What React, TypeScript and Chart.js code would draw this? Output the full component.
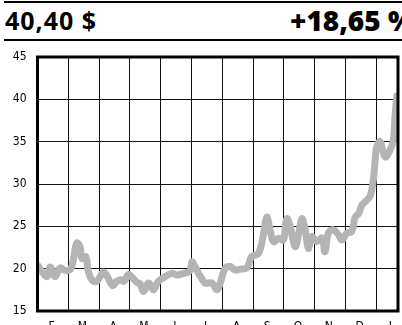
import React, { useEffect, useRef } from "react";
import { Chart, registerables } from "chart.js";

Chart.register(...registerables);

// Month initials along the bottom axis (first gridline = start of February)
const MONTH_LABELS = ["F", "M", "A", "M", "J", "J", "A", "S", "O", "N", "D", "J"];
const Y_TICKS = [15, 20, 25, 30, 35, 40, 45];

// Position of each reading, in months since the start of the window
const MONTH_POS = [
  0, 0.3, 0.41, 0.57, 0.73, 0.89, 1.06, 1.15, 1.27, 1.38, 1.44, 1.57, 1.64, 1.76,
  1.92, 2.03, 2.14, 2.27, 2.44, 2.57, 2.7, 2.81, 2.95, 3.09, 3.22, 3.33, 3.44,
  3.6, 3.76, 3.92, 4.08, 4.36, 4.52, 4.79, 4.95, 5.01, 5.11, 5.22, 5.33, 5.44,
  5.66, 5.82, 5.93, 6.09, 6.25, 6.41, 6.57, 6.79, 6.95, 7.17, 7.33, 7.44, 7.55,
  7.66, 7.82, 7.98, 8.09, 8.2, 8.36, 8.47, 8.58, 8.69, 8.79, 8.9, 9.06, 9.23,
  9.33, 9.44, 9.6, 9.77, 9.88, 10.04, 10.2, 10.31, 10.42, 10.53, 10.69, 10.8,
  10.9, 10.96, 11.01, 11.12, 11.28, 11.44, 11.55, 11.6, 11.66,
];

// Share price in dollars
const PRICES = [
  20.4, 19.05, 20.2, 19.05, 20.1, 19.8, 19.9, 20.8, 23.0, 22.6, 21.2, 21.4, 19.85,
  18.7, 18.5, 19.05, 19.6, 19.05, 18.0, 18.5, 18.7, 18.5, 19.3, 18.9, 18.4, 18.2,
  17.3, 18.3, 17.5, 18.5, 18.9, 19.45, 19.25, 19.5, 19.75, 20.8, 20.25, 19.45,
  18.85, 18.3, 18.3, 17.5, 18.3, 20.05, 20.25, 19.85, 19.95, 20.1, 21.4, 21.8,
  24.0, 26.1, 24.6, 23.2, 23.6, 23.4, 25.9, 25.0, 22.6, 24.0, 25.9, 24.6, 22.4,
  23.8, 23.2, 23.6, 22.0, 24.2, 24.6, 24.0, 23.4, 24.2, 24.4, 26.1, 26.5, 27.5,
  28.1, 28.6, 30.5, 32.85, 34.4, 35.0, 33.2, 34.0, 35.2, 37.9, 40.4,
];

const LAST_PRICE = "40,40 $";
const CHANGE = "+18,65 %";

const AXIS_FONT = "'Liberation Sans Narrow', 'DejaVu Sans Condensed', 'Open Sans', sans-serif";

const frameBorder = {
  id: "frameBorder",
  afterDraw(chart: Chart) {
    const { ctx, chartArea } = chart;
    ctx.save();
    ctx.strokeStyle = "#000";
    ctx.lineWidth = 3;
    ctx.strokeRect(
      chartArea.left,
      chartArea.top,
      chartArea.right - chartArea.left,
      chartArea.bottom - chartArea.top
    );
    ctx.restore();
  },
};

export default function App() {
  const canvasRef = useRef<HTMLCanvasElement | null>(null);

  useEffect(() => {
    document.body.style.margin = "0";
    document.body.style.overflow = "hidden";
    const canvas = canvasRef.current;
    if (!canvas) return;
    const points = MONTH_POS.map((m, i) => ({ x: m, y: PRICES[i] }));
    const chart = new Chart(canvas, {
      type: "line",
      data: {
        datasets: [
          {
            data: points,
            borderColor: "#b4b4b4",
            borderWidth: 7,
            borderCapStyle: "round",
            borderJoinStyle: "round",
            pointRadius: 0,
            tension: 0.4,
            fill: false,
          },
        ],
      },
      options: {
        animation: false,
        responsive: false,
        maintainAspectRatio: false,
        events: [],
        layout: { padding: { top: 12, right: 4, left: 0, bottom: 0 } },
        plugins: {
          legend: { display: false },
          tooltip: { enabled: false },
        },
        scales: {
          x: {
            type: "linear",
            min: 0,
            max: 11.7,
            afterBuildTicks(scale: any) {
              scale.ticks = MONTH_LABELS.map((_, i) => ({ value: i }));
            },
            afterFit(scale: any) {
              scale.height = 24;
              scale.paddingLeft = 0;
              scale.paddingRight = 0;
            },
            border: { display: false },
            grid: { color: "#111", lineWidth: 1, drawTicks: false },
            ticks: {
              autoSkip: false,
              maxRotation: 0,
              padding: 9,
              labelOffset: 14,
              color: "#000",
              font: { family: AXIS_FONT, size: 12 },
              callback: (_v: any, i: number) => MONTH_LABELS[i],
            },
          },
          y: {
            type: "linear",
            min: 15,
            max: 45,
            afterBuildTicks(scale: any) {
              scale.ticks = Y_TICKS.map((v) => ({ value: v }));
            },
            afterFit(scale: any) {
              scale.width = 37.5;
              scale.paddingTop = 0;
              scale.paddingBottom = 0;
            },
            border: { display: false },
            grid: { color: "#111", lineWidth: 1, drawTicks: false },
            ticks: {
              padding: 11,
              color: "#000",
              font: { family: AXIS_FONT, size: 12 },
            },
          },
        },
      },
      plugins: [frameBorder],
    });
    return () => chart.destroy();
  }, []);

  return (
    <div style={{ position: "relative", width: 402, height: 325, overflow: "hidden", background: "#fff" }}>
      <div style={{ position: "absolute", left: 4, right: 0, top: 1, height: 2, background: "#000" }} />
      <div
        style={{
          position: "absolute",
          left: 5,
          top: 5,
          fontFamily: "'Open Sans', sans-serif",
          fontWeight: 700,
          fontSize: 25,
          lineHeight: "30px",
          letterSpacing: 1,
          color: "#000",
          whiteSpace: "nowrap",
        }}
      >
        {LAST_PRICE}
      </div>
      <div
        style={{
          position: "absolute",
          left: 290,
          top: 4,
          fontFamily: "'Open Sans', sans-serif",
          fontWeight: 800,
          fontSize: 28,
          lineHeight: "32px",
          color: "#000",
          whiteSpace: "nowrap",
        }}
      >
        {CHANGE}
      </div>
      <div style={{ position: "absolute", left: 4, right: 0, top: 39, height: 2, background: "#000" }} />
      <div style={{ position: "absolute", left: 0, top: 45, width: 402, height: 290 }}>
        <canvas ref={canvasRef} width={402} height={290} style={{ display: "block" }} />
      </div>
    </div>
  );
}
